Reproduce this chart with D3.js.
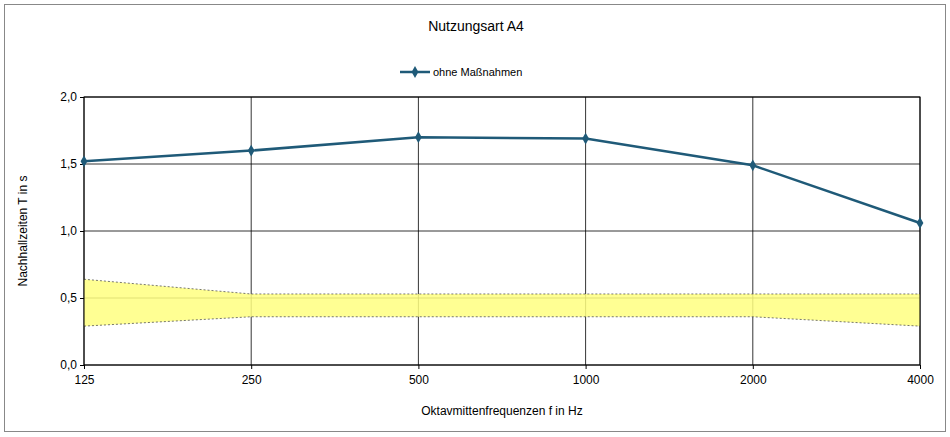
<!DOCTYPE html>
<html><head><meta charset="utf-8">
<script src="https://cdn.jsdelivr.net/npm/d3@7"></script>
<style>body{margin:0;background:#fff}text{font-family:"Liberation Sans",Arial,sans-serif;fill:#000}</style>
</head><body><svg id="c" width="950" height="437"></svg>
<script>
const categories=["125","250","500","1000","2000","4000"];
const values=[1.52,1.60,1.70,1.69,1.49,1.06];
const bandUpper=[0.64,0.53,0.53,0.53,0.53,0.53];
const bandLower=[0.29,0.36,0.36,0.36,0.36,0.29];
const yTicks=[0,0.5,1,1.5,2];
const svg=d3.select("#c");
svg.append("rect").attr("x",4.5).attr("y",4.5).attr("width",941).attr("height",427).attr("fill","#fff").attr("stroke","#888");
const L=84,R=920,T=97,B=365;
const x=d3.scalePoint().domain(categories).range([L,R]);
const y=d3.scaleLinear().domain([0,2]).range([B,T]);
const fmt=d=>d3.format(".1f")(d).replace(".",",");
// grid
svg.append("g").selectAll("line").data(yTicks).join("line").attr("x1",L).attr("x2",R).attr("y1",d=>y(d)).attr("y2",d=>y(d)).attr("stroke","#000").attr("stroke-width",0.8);
svg.append("g").selectAll("line").data(categories).join("line").attr("x1",d=>x(d)).attr("x2",d=>x(d)).attr("y1",T).attr("y2",B).attr("stroke","#000").attr("stroke-width",0.8);
// band
const idx=categories.map((c,i)=>i);
svg.append("path").datum(idx).attr("d",d3.area().x(i=>x(categories[i])).y0(i=>y(bandLower[i])).y1(i=>y(bandUpper[i]))).attr("fill","#ffff80").attr("opacity",0.85);
[bandUpper,bandLower].forEach(b=>svg.append("path").datum(idx).attr("d",d3.line().x(i=>x(categories[i])).y(i=>y(b[i]))).attr("fill","none").attr("stroke","#555").attr("stroke-width",0.8).attr("stroke-dasharray","2,2"));
svg.append("rect").attr("x",L).attr("y",T).attr("width",R-L).attr("height",B-T).attr("fill","none").attr("stroke","#000");
// axes
const ya=svg.append("g").attr("transform",`translate(${L},0)`).call(d3.axisLeft(y).tickValues(yTicks).tickFormat(fmt).tickSize(4));
const xa=svg.append("g").attr("transform",`translate(0,${B})`).call(d3.axisBottom(x).tickSize(4).tickPadding(6));
[ya,xa].forEach(a=>{a.select(".domain").remove();a.selectAll("text").attr("font-size",12).attr("font-family","Liberation Sans, Arial");});
// line
const col="#1f5a78";
svg.append("path").datum(values).attr("d",d3.line().x((d,i)=>x(categories[i])).y(d=>y(d))).attr("fill","none").attr("stroke",col).attr("stroke-width",2.5);
svg.append("g").selectAll("path").data(values).join("path").attr("d",d3.symbol(d3.symbolDiamond,40)).attr("transform",(d,i)=>`translate(${x(categories[i])},${y(d)})`).attr("fill",col);
// texts
svg.append("text").attr("x",476).attr("y",31).attr("text-anchor","middle").attr("font-size",14).text("Nutzungsart A4");
svg.append("line").attr("x1",400).attr("x2",430).attr("y1",72).attr("y2",72).attr("stroke",col).attr("stroke-width",2.5);
svg.append("path").attr("d",d3.symbol(d3.symbolDiamond,40)).attr("transform","translate(415,72)").attr("fill",col);
svg.append("text").attr("x",433).attr("y",76).attr("font-size",11).text("ohne Maßnahmen");
svg.append("text").attr("x",502).attr("y",415).attr("text-anchor","middle").attr("font-size",12).text("Oktavmittenfrequenzen  f in Hz");
svg.append("text").attr("transform","translate(27,231) rotate(-90)").attr("text-anchor","middle").attr("font-size",12).text("Nachhallzeiten  T in s");
</script></body></html>
